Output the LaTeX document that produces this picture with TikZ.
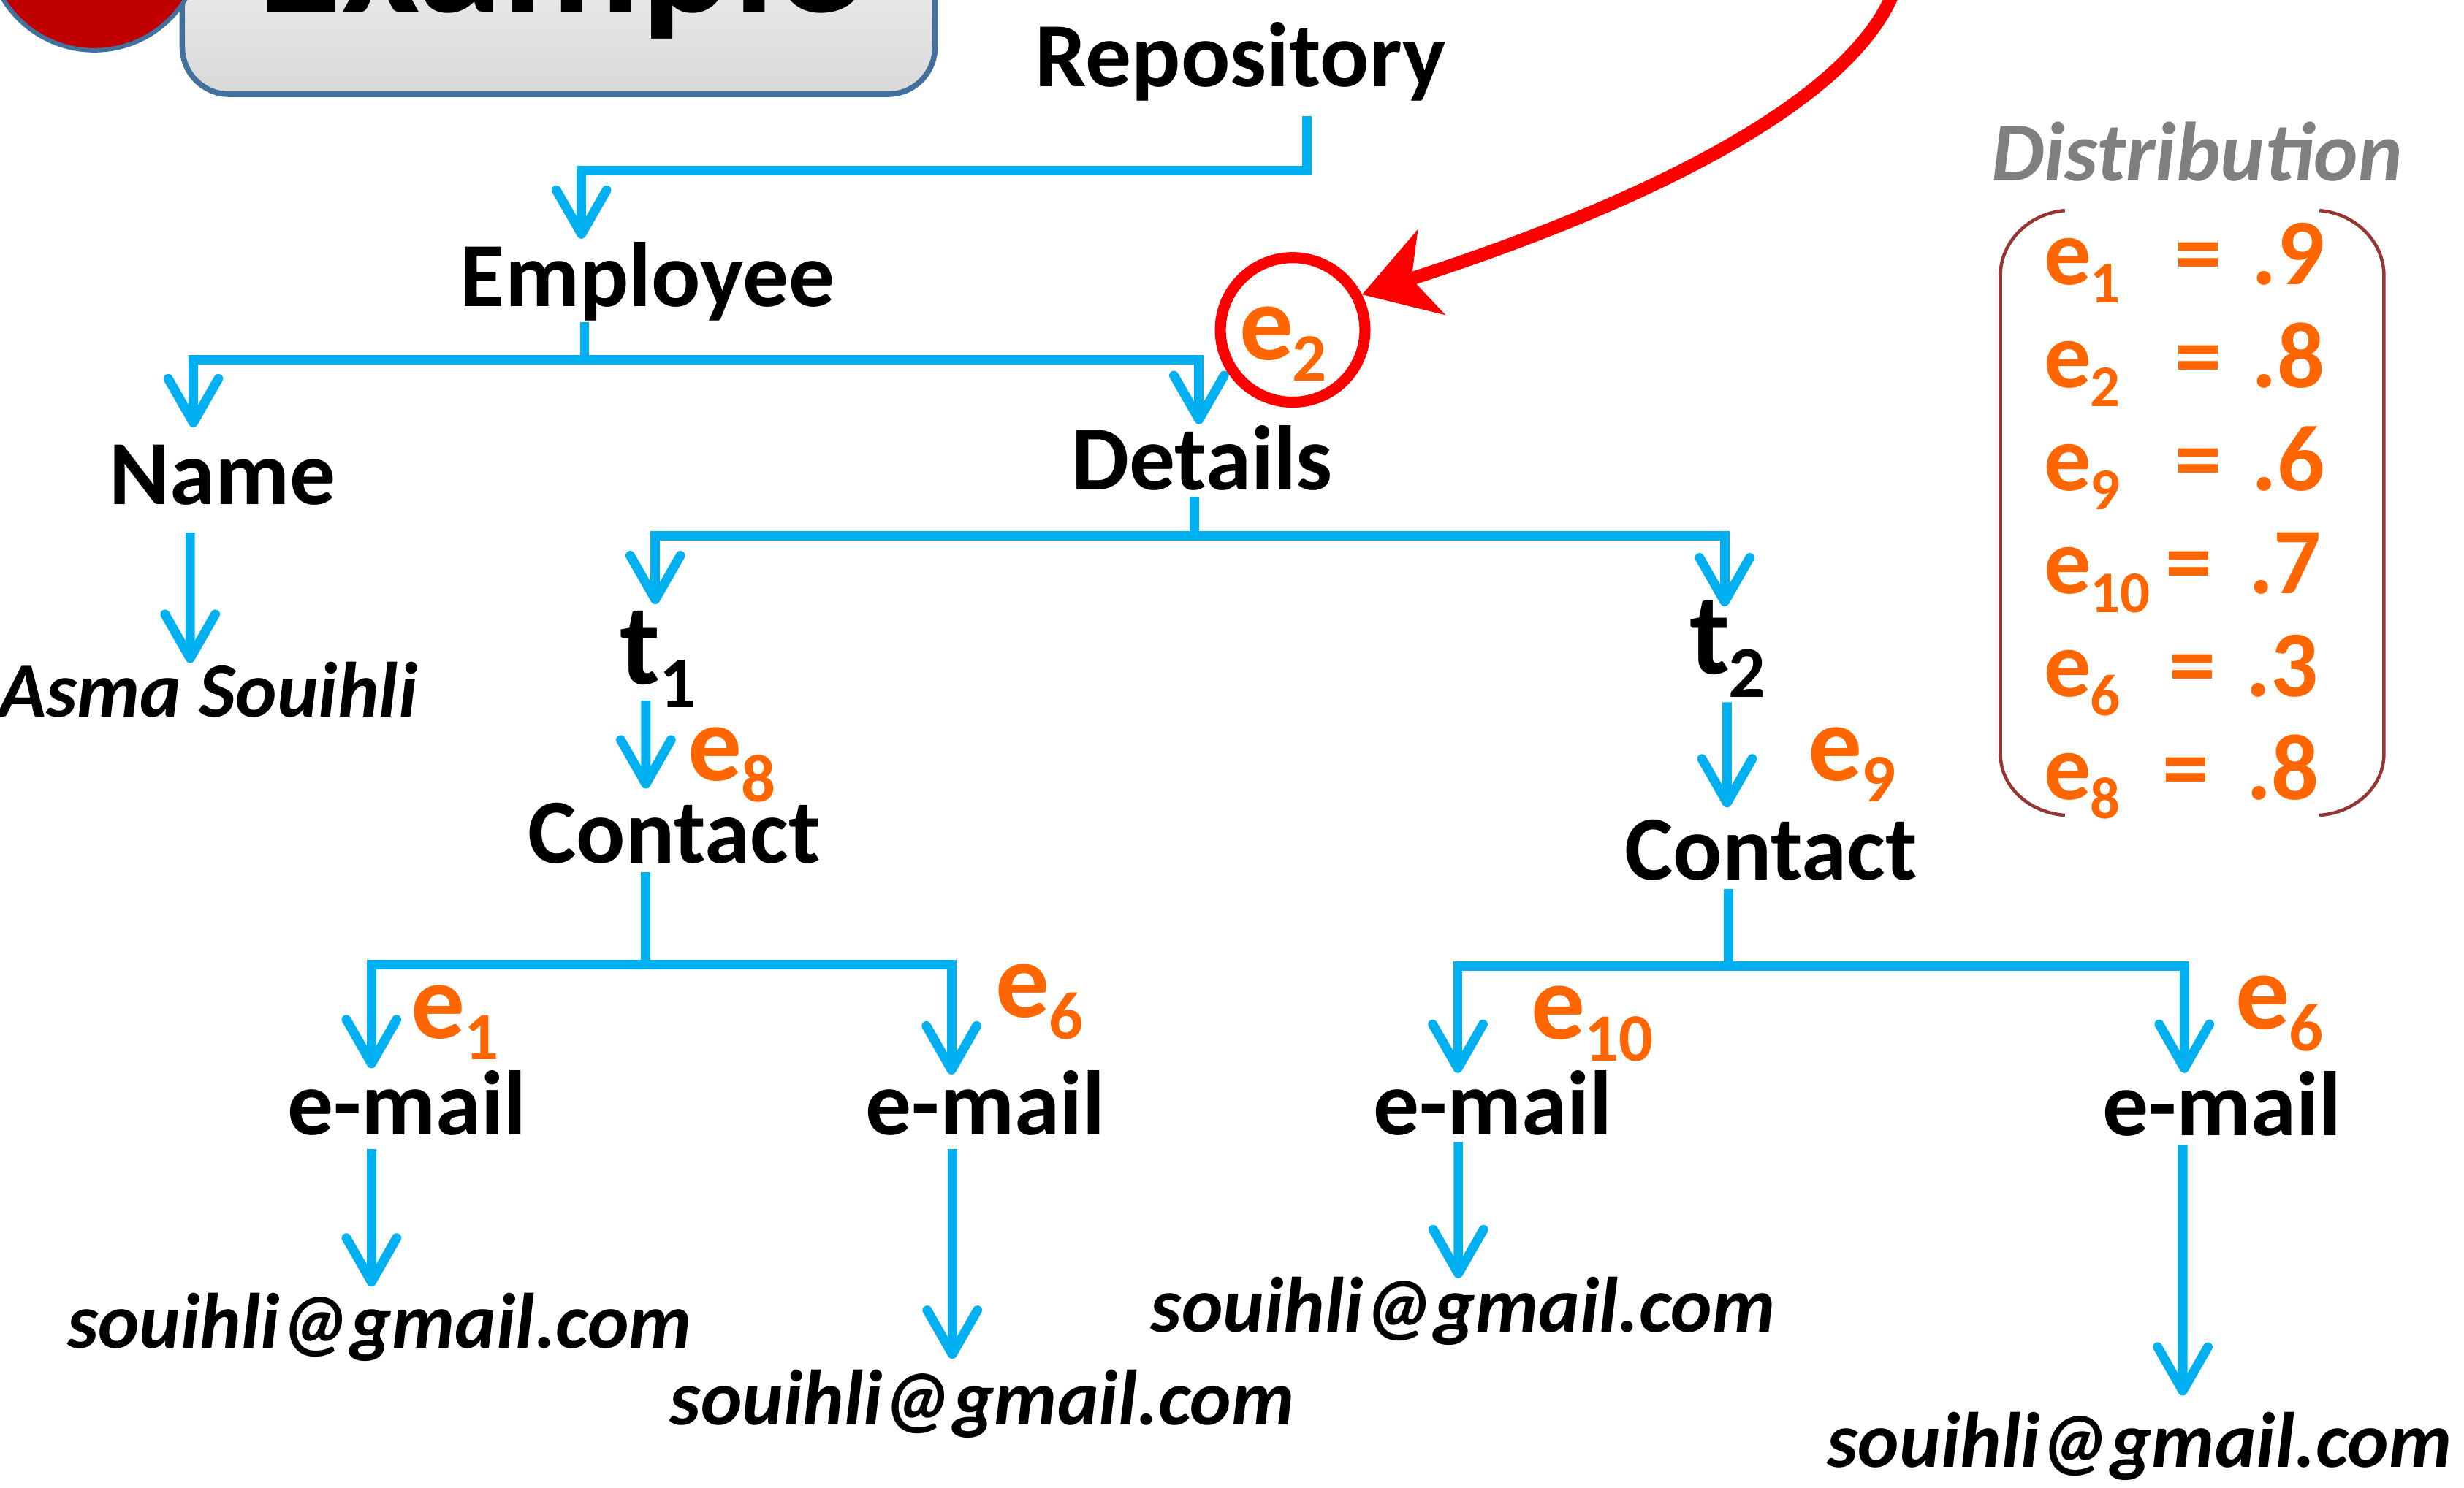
\documentclass[tikz,border=0pt]{standalone}
\usepackage{fontspec}
\usepackage{graphicx}
\setmainfont{Carlito}
\usetikzlibrary{arrows.meta}
\definecolor{linkBlue}{HTML}{00B0F0}
\definecolor{eOrange}{HTML}{FF6600}
\definecolor{markRed}{HTML}{FF0000}
\definecolor{boxBlue}{HTML}{41719C}
\definecolor{ballRed}{HTML}{C00000}
\definecolor{distGray}{HTML}{7F7F7F}
\definecolor{brkRed}{HTML}{943634}
\newcommand{\subx}[1]{\kern-0.01em\raisebox{-0.2em}{\scalebox{0.63}{#1}}}
\newcommand{\elab}[1]{e\subx{#1}}

\begin{document}
\begin{tikzpicture}[x=1cm, y=-1cm,
    lbl/.style={font=\bfseries\fontsize{16.6}{20}\selectfont, inner sep=0pt, anchor=base},
    addr/.style={font=\bfseries\itshape\fontsize{14.2}{17}\selectfont, inner sep=0pt, anchor=base},
    tlbl/.style={font=\bfseries\fontsize{21}{24}\selectfont, inner sep=0pt, anchor=base west},
    elbl/.style={font=\bfseries\fontsize{19.5}{22}\selectfont, text=eOrange, inner sep=0pt, anchor=base west},
    dlbl/.style={font=\bfseries\fontsize{17}{20}\selectfont, text=eOrange, inner sep=0pt, anchor=base},
    trunk/.style={draw=linkBlue, line width=1.7pt},
    link/.style={trunk, -{Straight Barb[length=2.8mm,width=3.2mm,round]}}]
  \useasboundingbox (0,0) rectangle (15.68,9.47);
  \clip (0,0) rectangle (15.68,9.47);
  % title box, cut by the top edge
  \shade[top color=gray!8, bottom color=gray!30, draw=boxBlue, line width=1pt, rounded corners=3mm]
    (1.16,-0.6) rectangle (5.95,0.60);
  \node[anchor=base, inner sep=0pt, font=\bfseries\fontsize{31}{36}\selectfont] (title) at (3.56,0.078) {Example};
  \filldraw[fill=ballRed, draw=boxBlue, line width=0.8pt] (0.60,-0.36) circle (0.68);

  % tree labels
  \node[lbl] (rep) at (7.895,0.55) {Repository};
  \node[lbl] (emp) at (4.12,1.95) {Employee};
  \node[lbl] (name) at (1.415,3.21) {Name};
  \node[lbl] (det) at (7.65,3.12) {Details};
  \node[addr] (asma) at (1.325,4.566) {Asma Souihli};
  \node[tlbl] (t1) at (3.94,4.357) {t\subx{1}};
  \node[tlbl] (t2) at (10.746,4.29) {t\subx{2}};
  \node[lbl] (con1) at (4.29,5.496) {Contact};
  \node[lbl] (con2) at (11.27,5.60) {Contact};
  \node[lbl] (mail1) at (2.59,7.225) {e-mail};
  \node[lbl] (mail2) at (6.27,7.225) {e-mail};
  \node[lbl] (mail3) at (9.50,7.226) {e-mail};
  \node[lbl] (mail4) at (14.14,7.23) {e-mail};
  \node[addr] (addr1) at (2.415,8.583) {souihli@gmail.com};
  \node[addr] (addr2) at (6.25,9.07) {souihli@gmail.com};
  \node[addr] (addr3) at (9.31,8.48) {souihli@gmail.com};
  \node[addr] (addr4) at (13.615,9.34) {souihli@gmail.com};

  % edge labels
  \node[elbl] (e8) at (4.37,4.967) {\elab{8}};
  \node[elbl] (e9) at (11.50,4.967) {\elab{9}};
  \node[elbl] (e1) at (2.61,6.61) {\elab{1}};
  \node[elbl] (e6a) at (6.33,6.476) {\elab{6}};
  \node[elbl] (e10) at (9.737,6.615) {\elab{10}};
  \node[elbl] (e6b) at (14.22,6.55) {\elab{6}};

  % connectors
  \draw[link] ([shift={(0.42,0.19)}]rep.base) -- ++(0,0.345) -| ([shift={(-0.42,-0.43)}]emp.base);
  \draw[trunk] ([shift={(-0.40,0.10)}]emp.base) -- ++(0,0.24) coordinate (empfork);
  \draw[link] (empfork) -| ([shift={(-0.185,-0.49)}]name.base);
  \draw[link] (empfork) -| ([shift={(-0.02,-0.42)}]det.base);
  \draw[link] ([shift={(-0.205,0.18)}]name.base) -- ([shift={(-0.115,-0.346)}]asma.base);
  \draw[trunk] ([shift={(-0.05,0.04)}]det.base) -- ++(0,0.25) coordinate (detfork);
  \draw[link] (detfork) -| ([shift={(0.23,-0.511)}]t1.base west);
  \draw[link] (detfork) -| ([shift={(0.229,-0.43)}]t2.base west);
  \draw[link] ([shift={(0.17,0.103)}]t1.base west) -- ([shift={(-0.18,-0.476)}]con1.base);
  \draw[link] ([shift={(0.244,0.18)}]t2.base west) -- ([shift={(-0.28,-0.46)}]con2.base);
  \draw[trunk] ([shift={(-0.18,0.054)}]con1.base) -- ++(0,0.59) coordinate (con1fork);
  \draw[link] (con1fork) -| ([shift={(-0.226,-0.425)}]mail1.base);
  \draw[link] (con1fork) -| ([shift={(-0.215,-0.385)}]mail2.base);
  \draw[trunk] ([shift={(-0.27,0.06)}]con2.base) -- ++(0,0.49) coordinate (con2fork);
  \draw[link] (con2fork) -| ([shift={(-0.223,-0.396)}]mail3.base);
  \draw[link] (con2fork) -| ([shift={(-0.24,-0.40)}]mail4.base);
  \draw[link] ([shift={(-0.226,0.09)}]mail1.base) -- ([shift={(-0.051,-0.393)}]addr1.base);
  \draw[link] ([shift={(-0.21,0.09)}]mail2.base) -- ([shift={(-0.19,-0.42)}]addr2.base);
  \draw[link] ([shift={(-0.22,0.044)}]mail3.base) -- ([shift={(-0.03,-0.343)}]addr3.base);
  \draw[link] ([shift={(-0.25,0.06)}]mail4.base) -- ([shift={(0.275,-0.456)}]addr4.base);

  % marked edge
  \node[circle, draw=markRed, line width=2pt, minimum size=0.92cm, inner sep=0pt] (ring) at (8.226,2.10) {};
  \node[elbl] (e2) at (7.88,2.29) {\elab{2}};
  \coordinate (from) at (12.05,-0.05);
  \draw[markRed, line width=2.4pt, -{Stealth[length=4.6mm,width=5.6mm,inset=1.3mm]}]
    (from) .. controls (11.75,0.70) and (10.30,1.35) .. (ring.27);

  % distribution
  \node[anchor=base, inner sep=0pt, text=distGray, font=\bfseries\itshape\fontsize{15.2}{18}\selectfont] (dist) at (13.98,1.15) {Distribution};
  \draw[brkRed, line width=0.6pt] (13.14,1.34) .. controls (12.90,1.36) and (12.73,1.55) .. (12.73,1.75)
    -- (12.73,4.80) .. controls (12.73,5.00) and (12.90,5.17) .. (13.14,5.19);
  \draw[brkRed, line width=0.6pt] (14.76,1.34) .. controls (15.00,1.36) and (15.17,1.55) .. (15.17,1.75)
    -- (15.17,4.80) .. controls (15.17,5.00) and (15.00,5.17) .. (14.76,5.19);
  \foreach \s/\v/\qx/\vx [count=\k] in {1/.9/13.99/14.80, 2/.8/13.99/14.80, 9/.6/13.99/14.80,
      10/.7/13.93/14.78, 6/.3/13.95/14.76, 8/.8/13.91/14.765}
  {
    \pgfmathsetmacro{\ry}{1.81+0.656*(\k-1)}
    \node[dlbl, anchor=base west] (d\k) at (13.00,\ry) {\elab{\s}};
    \node[dlbl] (q\k) at (\qx,\ry) {=};
    \node[dlbl, anchor=base east] (v\k) at (\vx,\ry) {\v};
  }
\end{tikzpicture}
\end{document}
